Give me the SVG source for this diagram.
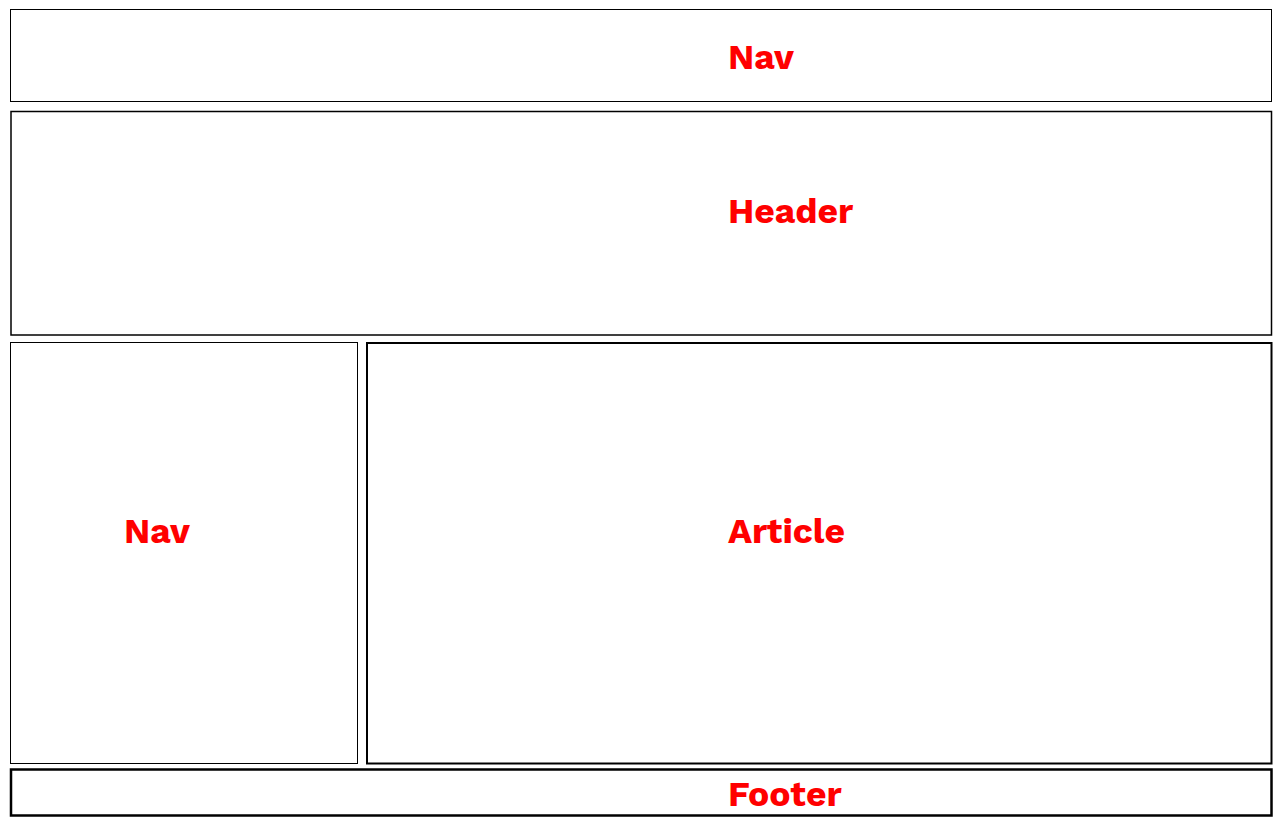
<svg xmlns="http://www.w3.org/2000/svg" width="1280" height="824" viewBox="0 0 1280 824">
<style>
.box{fill:#fff;stroke:#000}
.lbl{font-family:"Work Sans","Liberation Sans",Arial,sans-serif;font-weight:bold;font-size:35.5px;fill:#ff0000}
</style>
<rect width="1280" height="824" fill="#fff"/>
<g id="nav-top"><rect class="box" x="10.5" y="9.5" width="1261" height="92" stroke-width="1"/><text class="lbl" x="728" y="69">Nav</text></g>
<g id="header"><rect class="box" x="11" y="111.5" width="1260.5" height="223.5" stroke-width="1.5"/><text class="lbl" x="728" y="223">Header</text></g>
<g id="nav-side"><rect class="box" x="10.5" y="342.5" width="347" height="421" stroke-width="1"/><text class="lbl" x="124" y="543">Nav</text></g>
<g id="article"><rect class="box" x="367" y="343" width="904.5" height="420.5" stroke-width="2"/><text class="lbl" x="728" y="543">Article</text></g>
<g id="footer"><rect class="box" x="11" y="769.5" width="1260.5" height="46" stroke-width="2.5"/><text class="lbl" x="728" y="806">Footer</text></g>
<g id="connectors"/>
</svg>
